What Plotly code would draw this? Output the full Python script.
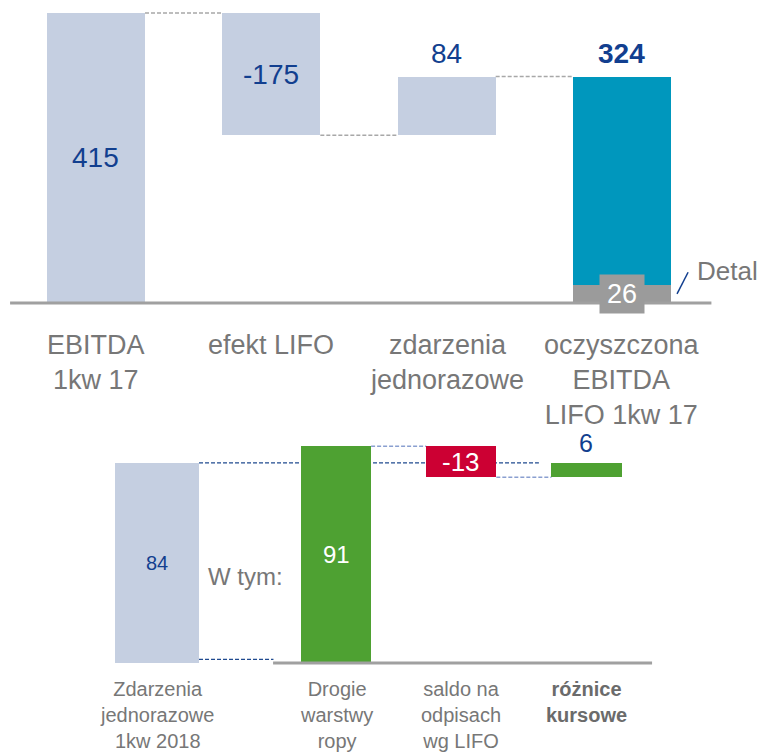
import plotly.graph_objects as go

# ---------------- data ----------------
top_categories = ["EBITDA<br>1kw 17", "efekt LIFO", "zdarzenia<br>jednorazowe",
                  "oczyszczona<br>EBITDA<br>LIFO 1kw 17"]
top_start = 415
top_changes = [-175, 84]
top_total = 324
top_detail = 26
top_detail_label = "Detal"

bottom_categories = ["Zdarzenia<br>jednorazowe<br>1kw 2018", "Drogie<br>warstwy<br>ropy",
                     "saldo na<br>odpisach<br>wg LIFO", "<b>różnice<br>kursowe</b>"]
bottom_start = 84
bottom_changes = [91, -13, 6]
bottom_note = "W tym:"

# ---------------- styles ----------------
FONT = "Arial, Liberation Sans, sans-serif"
NAVY = "#123f8f"
GREY_TXT = "#777777"
LIGHT = "#c5cfe1"
TEAL = "#0097bd"
GREEN = "#4ea132"
RED = "#cc0033"
DETAIL_GREY = "#9b9b9b"

top_x = [0, 1, 2, 3]
top_w = 0.559
bot_x = [0, 1.43, 2.43, 3.43]
bot_w = [0.671, 0.56, 0.56, 0.56]

# ---------------- derived geometry (top) ----------------
t_base, t_h = [0], [top_start]
run = top_start
levels = [top_start]
for c in top_changes:
    t_base.append(run + min(c, 0))
    t_h.append(abs(c))
    run += c
    levels.append(run)
t_base.append(0)
t_h.append(top_total)
top_colors = [LIGHT, LIGHT, LIGHT, TEAL]

# ---------------- derived geometry (bottom) ----------------
b_base, b_h = [0], [bottom_start]
run = 0
b_levels = []
b_colors = [LIGHT]
for c in bottom_changes:
    b_base.append(run + min(c, 0))
    b_h.append(abs(c))
    run += c
    b_levels.append(run)
    b_colors.append(GREEN if c > 0 else RED)

fig = go.Figure()
fig.add_trace(go.Bar(x=top_x, y=t_h, base=t_base, width=top_w,
                     marker=dict(color=top_colors, line=dict(width=0)),
                     xaxis="x", yaxis="y", hoverinfo="skip", showlegend=False))
fig.add_trace(go.Bar(x=[top_x[3]], y=[top_detail], base=[0], width=top_w,
                     marker=dict(color=DETAIL_GREY, line=dict(width=0)),
                     xaxis="x", yaxis="y", hoverinfo="skip", showlegend=False))
fig.add_trace(go.Bar(x=bot_x, y=b_h, base=b_base, width=bot_w,
                     marker=dict(color=b_colors, line=dict(width=0)),
                     xaxis="x2", yaxis="y2", hoverinfo="skip", showlegend=False))

shapes = []
anns = []

# top connectors
top_conn_levels = [top_start, levels[1], levels[2]]
for i, lv in enumerate(top_conn_levels):
    shapes.append(dict(type="line", xref="x", yref="y", layer="below",
                       x0=top_x[i] + top_w / 2, x1=top_x[i + 1] - top_w / 2, y0=lv, y1=lv,
                       line=dict(color="#a8a8a8", width=1.5, dash="4px,2px")))
# top baseline
shapes.append(dict(type="line", xref="x", yref="y", layer="above",
                   x0=-0.49, x1=3.51, y0=0, y1=0, line=dict(color="#a0a0a0", width=3)))
# slash to Detal
shapes.append(dict(type="line", xref="x", yref="y", layer="above",
                   x0=3.314, y0=13, x1=3.377, y1=44, line=dict(color=NAVY, width=1.5)))

# bottom connectors
shapes.append(dict(type="line", xref="x2", yref="y2", layer="below",
                   x0=bot_x[0] + bot_w[0] / 2, x1=bot_x[3] - bot_w[3] / 2 - 0.1,
                   y0=bottom_start, y1=bottom_start,
                   line=dict(color="#1f4a8f", width=1.3, dash="4px,2px")))
shapes.append(dict(type="line", xref="x2", yref="y2", layer="below",
                   x0=bot_x[0] + bot_w[0] / 2, x1=0.93, y0=1.5, y1=1.5,
                   line=dict(color="#1f4a8f", width=1.3, dash="4px,2px")))
for i in range(2):
    lv = b_levels[i]
    shapes.append(dict(type="line", xref="x2", yref="y2", layer="below",
                       x0=bot_x[i + 1] + bot_w[i + 1] / 2, x1=bot_x[i + 2] - bot_w[i + 2] / 2,
                       y0=lv, y1=lv,
                       line=dict(color="#8a9fd0", width=1.5, dash="4px,2px")))
# bottom baseline
shapes.append(dict(type="line", xref="x2", yref="y2", layer="above",
                   x0=0.927, x1=3.954, y0=0, y1=0, line=dict(color="#a0a0a0", width=3)))

# top value labels
anns.append(dict(x=top_x[0], y=top_start / 2, text=str(top_start), xref="x", yref="y",
                 showarrow=False, font=dict(size=28, color=NAVY, family=FONT)))
anns.append(dict(x=top_x[1], y=t_base[1] + t_h[1] / 2, text=str(top_changes[0]), xref="x", yref="y",
                 showarrow=False, font=dict(size=28, color=NAVY, family=FONT)))
anns.append(dict(x=top_x[2], y=t_base[2] + t_h[2], text=str(top_changes[1]), xref="x", yref="y",
                 yshift=23, showarrow=False, font=dict(size=28, color=NAVY, family=FONT)))
anns.append(dict(x=top_x[3], y=top_total, text="<b>%d</b>" % top_total, xref="x", yref="y",
                 yshift=23, showarrow=False, font=dict(size=28, color=NAVY, family=FONT)))
anns.append(dict(x=top_x[3], y=top_detail / 2, text=str(top_detail), xref="x", yref="y",
                 showarrow=False, bgcolor=DETAIL_GREY, width=42, height=36,
                 font=dict(size=27, color="white", family=FONT)))
anns.append(dict(x=3.416, y=46, text=top_detail_label, xref="x", yref="y", xanchor="left",
                 showarrow=False, font=dict(size=26, color=GREY_TXT, family=FONT)))
for i, cat in enumerate(top_categories):
    anns.append(dict(x=top_x[i], y=-36, text=cat, xref="x", yref="y", yanchor="top",
                     showarrow=False, font=dict(size=27, color=GREY_TXT, family=FONT)))

# bottom value labels
anns.append(dict(x=bot_x[0], y=bottom_start / 2, text=str(bottom_start), xref="x2", yref="y2",
                 showarrow=False, font=dict(size=20, color=NAVY, family=FONT)))
anns.append(dict(x=bot_x[1], y=b_base[1] + b_h[1] / 2, text=str(bottom_changes[0]), xref="x2", yref="y2",
                 showarrow=False, font=dict(size=24, color="white", family=FONT)))
anns.append(dict(x=bot_x[2], y=b_base[2] + b_h[2] / 2, text=str(bottom_changes[1]), xref="x2", yref="y2",
                 showarrow=False, font=dict(size=26, color="white", family=FONT)))
anns.append(dict(x=bot_x[3], y=b_base[3] + b_h[3], text=str(bottom_changes[2]), xref="x2", yref="y2",
                 yshift=20, showarrow=False, font=dict(size=25, color=NAVY, family=FONT)))
anns.append(dict(x=0.703, y=36.5, text=bottom_note, xref="x2", yref="y2",
                 showarrow=False, font=dict(size=24, color=GREY_TXT, family=FONT)))
for i, cat in enumerate(bottom_categories):
    anns.append(dict(x=bot_x[i], y=-5.5, text=cat, xref="x2", yref="y2", yanchor="top",
                     showarrow=False, font=dict(size=20, color=GREY_TXT if i < 3 else "#6b6b6b",
                                                family=FONT)))

ax = dict(visible=False, showgrid=False, zeroline=False, fixedrange=True)
fig.update_layout(
    width=759, height=752,
    margin=dict(l=0, r=0, t=0, b=0),
    paper_bgcolor="white", plot_bgcolor="white",
    barmode="overlay", bargap=0,
    showlegend=False,
    xaxis=dict(ax, domain=[0, 1], range=[-0.5475, 3.7814]),
    yaxis=dict(ax, domain=[0.42, 1], range=[-190.6, 433.6]),
    xaxis2=dict(ax, domain=[0, 1], range=[-1.254, 4.808], anchor="y2"),
    yaxis2=dict(ax, domain=[0, 0.42], range=[-37.38, 95.25], anchor="x2"),
    shapes=shapes, annotations=anns,
    font=dict(family=FONT),
)

fig.write_html("out.html", config={"displayModeBar": False},
               post_script="document.body.style.margin='0px';document.body.style.overflow='hidden';")
